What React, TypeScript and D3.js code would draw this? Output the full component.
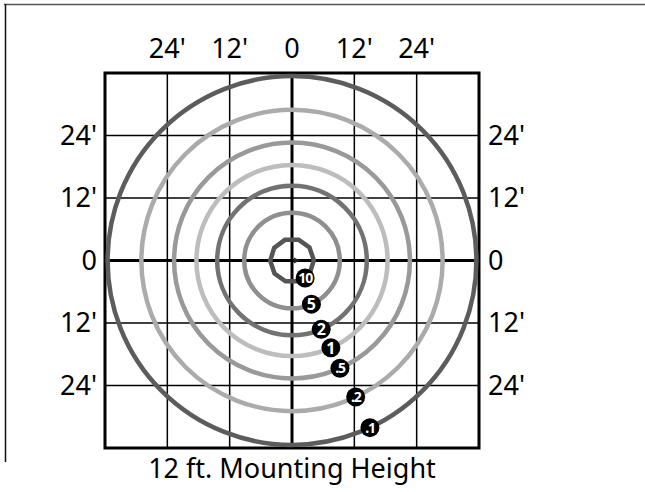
import React from "react";
import * as d3 from "d3";

// footcandle levels
const levels = ["10", "5", "2", "1", ".5", ".2", ".1"];
const radiiFt = [4.2, 9.2, 14.4, 18.4, 22.7, 29, 35.5];
const ringColors = ["#555", "#8f8f8f", "#727272", "#bdbdbd", "#999", "#ababab", "#5c5c5c"];
const markerAngles = [37, 24, 23, 24, 24, 25, 25]; // degrees from straight down, toward right

const ticksFt = [-24, -12, 0, 12, 24];
const tickLabels = ["24'", "12'", "0", "12'", "24'"];
const gridFt = [-36, -24, -12, 0, 12, 24, 36];
const title = "12 ft. Mounting Height";

const W = 645;
const H = 492;
const font = "'Noto Sans', 'Open Sans', sans-serif";
const labelSize = 27;

export default function App() {
  const x = d3.scaleLinear().domain([-36, 36]).range([105, 479]);
  const y = d3.scaleLinear().domain([36, -36]).range([73, 448]);
  const cx = x(0);
  const cy = y(0);
  const pxPerFt = x(1) - x(0);

  // innermost contour is drawn as a rough polygon in the original
  const poly = d3
    .lineRadial<number>()
    .angle((d) => d)
    .radius(radiiFt[0] * pxPerFt)
    .curve(d3.curveLinearClosed)(d3.range(10).map((i) => (i / 10) * Math.PI * 2 + 0.3));

  return (
    <svg width={W} height={H} style={{ position: "absolute", left: 0, top: 0 }}>
      <rect width={W} height={H} fill="#fff" />
      {/* frame */}
      <line x1={4} x2={645} y1={4.5} y2={4.5} stroke="#555" strokeWidth={1.5} />
      <line x1={5.5} x2={5.5} y1={4} y2={462} stroke="#111" strokeWidth={1.5} />

      {/* grid */}
      {gridFt.map((g) => (
        <line
          key={"v" + g}
          x1={x(g)}
          x2={x(g)}
          y1={y(36)}
          y2={y(-36)}
          stroke="#000"
          strokeWidth={g === 0 ? 3 : 1.5}
        />
      ))}
      {gridFt.map((g) => (
        <line
          key={"h" + g}
          x1={x(-36)}
          x2={x(36)}
          y1={y(g)}
          y2={y(g)}
          stroke="#000"
          strokeWidth={g === 0 ? 3 : 1.5}
        />
      ))}
      <rect
        x={x(-36)}
        y={y(36)}
        width={x(36) - x(-36)}
        height={y(-36) - y(36)}
        fill="none"
        stroke="#000"
        strokeWidth={3}
      />

      {/* contours */}
      {radiiFt.map((r, i) =>
        i === 0 ? (
          <path
            key={i}
            d={poly || ""}
            transform={`translate(${cx},${cy})`}
            fill="none"
            stroke={ringColors[i]}
            strokeWidth={4.5}
          />
        ) : (
          <circle
            key={i}
            cx={cx}
            cy={cy}
            r={r * pxPerFt}
            fill="none"
            stroke={ringColors[i]}
            strokeWidth={4.5}
          />
        )
      )}

      {/* small aim arrow at centre */}
      <path d={`M${cx + 2},${cy - 3} L${cx + 8},${cy} L${cx + 2},${cy + 3} Z`} fill="#222" />

      {/* level markers */}
      {levels.map((lv, i) => {
        const a = (markerAngles[i] * Math.PI) / 180;
        const r = radiiFt[i] * pxPerFt;
        const mx = cx + Math.sin(a) * r;
        const my = cy + Math.cos(a) * r;
        return (
          <g key={lv} transform={`translate(${mx},${my})`}>
            <circle r={9.5} fill="#000" />
            <text
              textAnchor="middle"
              dy="0.36em"
              fill="#fff"
              fontFamily={font}
              fontWeight="bold"
              fontSize={lv.length > 1 ? 14 : 16}
              letterSpacing={lv.length > 1 ? -1.2 : 0}
            >
              {lv}
            </text>
          </g>
        );
      })}

      {/* tick labels */}
      {ticksFt.map((t, i) => (
        <text
          key={"t" + i}
          x={x(t)}
          y={58}
          textAnchor="middle"
          fontFamily={font}
          fontSize={labelSize}
          fill="#000"
        >
          {tickLabels[i]}
        </text>
      ))}
      {ticksFt.map((t, i) => (
        <text
          key={"l" + i}
          x={97}
          y={y(-t)}
          dy="0.35em"
          textAnchor="end"
          fontFamily={font}
          fontSize={labelSize}
          fill="#000"
        >
          {tickLabels[i]}
        </text>
      ))}
      {ticksFt.map((t, i) => (
        <text
          key={"r" + i}
          x={488}
          y={y(-t)}
          dy="0.35em"
          textAnchor="start"
          fontFamily={font}
          fontSize={labelSize}
          fill="#000"
        >
          {tickLabels[i]}
        </text>
      ))}

      <text x={cx} y={478} textAnchor="middle" fontFamily={font} fontSize={labelSize} fill="#000">
        {title}
      </text>
    </svg>
  );
}
